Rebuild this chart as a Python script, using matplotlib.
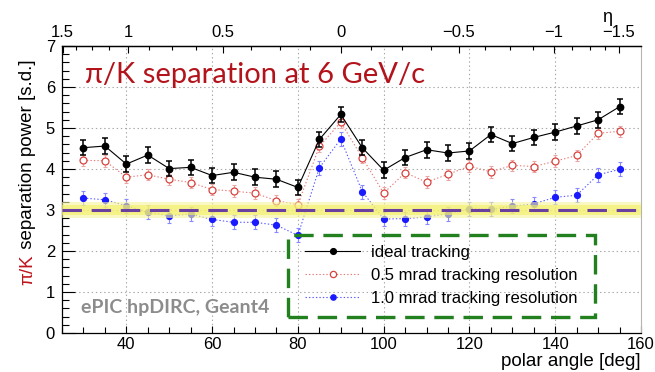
import numpy as np
import matplotlib
matplotlib.use("Agg")
import matplotlib.pyplot as plt
from matplotlib.patches import Rectangle
from matplotlib.ticker import MultipleLocator, FixedLocator

plt.rcParams['font.family'] = ['Liberation Sans', 'DejaVu Sans']
plt.rcParams['lines.scale_dashes'] = False

# ---------------- data ----------------
theta = [30, 35, 40, 45, 50, 55, 60, 65, 70, 75, 80, 85, 90, 95, 100,
         105, 110, 115, 120, 125, 130, 135, 140, 145, 150, 155]
ideal = [4.52, 4.56, 4.12, 4.34, 4.01, 4.04, 3.84, 3.92, 3.80, 3.75, 3.55,
         4.72, 5.33, 4.52, 3.97, 4.28, 4.47, 4.39, 4.44, 4.84, 4.62, 4.77,
         4.90, 5.05, 5.20, 5.52]
ideal_err = [0.18, 0.19, 0.19, 0.19, 0.19, 0.19, 0.19, 0.19, 0.19, 0.19, 0.19,
             0.19, 0.19, 0.19, 0.19, 0.19, 0.19, 0.19, 0.19, 0.19, 0.19, 0.19,
             0.19, 0.19, 0.19, 0.19]
res05 = [4.21, 4.20, 3.80, 3.86, 3.75, 3.67, 3.50, 3.46, 3.41, 3.23, 3.13,
         4.55, 5.14, 4.28, 3.41, 3.91, 3.68, 3.87, 4.07, 3.93, 4.09, 4.06,
         4.19, 4.33, 4.87, 4.92]
res05_err = [0.14, 0.14, 0.14, 0.14, 0.14, 0.14, 0.14, 0.14, 0.14, 0.14, 0.14,
             0.14, 0.14, 0.14, 0.14, 0.14, 0.14, 0.14, 0.14, 0.14, 0.14, 0.14,
             0.14, 0.14, 0.14, 0.14]
res10 = [3.29, 3.25, 3.10, 2.94, 2.86, 2.90, 2.77, 2.70, 2.70, 2.63, 2.38,
         4.03, 4.73, 3.45, 2.78, 2.79, 2.83, 2.91, 3.03, 3.02, 3.09, 3.15,
         3.31, 3.36, 3.86, 3.99]
res10_err = [0.17, 0.17, 0.17, 0.17, 0.17, 0.17, 0.17, 0.17, 0.17, 0.17, 0.17,
             0.17, 0.17, 0.17, 0.17, 0.17, 0.17, 0.17, 0.17, 0.17, 0.17, 0.17,
             0.17, 0.17, 0.17, 0.17]
threshold = 3.0
labels = ["ideal tracking", "0.5 mrad tracking resolution",
          "1.0 mrad tracking resolution"]
eta_major = [1.5, 1.0, 0.5, 0.0, -0.5, -1.0, -1.5]
eta_labels = ["1.5", "1", "0.5", "0", "\u22120.5", "\u22121", "\u22121.5"]
eta_minor = list(np.arange(-1.5, 1.5001, 0.125))


def eta_to_theta(eta):
    return np.degrees(2 * np.arctan(np.exp(-np.asarray(eta, dtype=float))))


# ---------------- figure ----------------
W, H = 655, 372
fig = plt.figure(figsize=(W / 100, H / 100), dpi=100)
ax = fig.add_axes([62 / W, 39 / H, 579 / W, 287 / H])
ax.set_xlim(25, 160)
ax.set_ylim(0, 7)

# grid
for xv in [40, 60, 80, 100, 120, 140]:
    ax.axvline(xv, color='#a8a8a8', lw=0.8, ls=(0, (1, 2)), zorder=0)
for yv in [1, 2, 3, 4, 5, 6]:
    ax.axhline(yv, color='#a8a8a8', lw=0.8, ls=(0, (1, 2)), zorder=0)

# series
ax.errorbar(theta, res05, yerr=res05_err, fmt='none', ecolor='#eaa5a5',
            elinewidth=0.8, capsize=1.5, capthick=0.8, zorder=2)
l05, = ax.plot(theta, res05, ls=(0, (1, 1.5)), color='#e77b7b', lw=0.8,
               marker='o', ms=5.0, mfc='white', mec='#d8433d', mew=0.9,
               zorder=3)
ax.errorbar(theta, res10, yerr=res10_err, fmt='none', ecolor='#8a8aff',
            elinewidth=0.8, capsize=1.5, capthick=0.8, zorder=2)
l10, = ax.plot(theta, res10, ls=(0, (1, 1.5)), color='#5a5aff', lw=0.8,
               marker='o', ms=4.2, mfc='#1a1aff', mec='#1a1aff', zorder=3)
ax.errorbar(theta, ideal, yerr=ideal_err, fmt='none', ecolor='black',
            elinewidth=1.1, capsize=2.2, capthick=1.1, zorder=4)
l0, = ax.plot(theta, ideal, '-', color='black', lw=0.8, marker='o', ms=4.6,
              mfc='black', mec='black', zorder=4)

# 3 s.d. line
ax.axhspan(threshold - 0.2, threshold + 0.2, color='#f7f49a', alpha=0.6,
           lw=0, zorder=5)
ax.axhspan(threshold - 0.13, threshold + 0.13, color='#f2ee60', alpha=0.6,
           lw=0, zorder=5)
ax.axhline(threshold, color='#6b3fa0', lw=2.2, dashes=(14, 7), zorder=6)

# axes styling
for s in ['left', 'bottom', 'top']:
    ax.spines[s].set_color('black')
    ax.spines[s].set_linewidth(0.9)
ax.spines['right'].set_color('#b5b5b5')
ax.spines['right'].set_linewidth(0.8)

ax.xaxis.set_major_locator(FixedLocator([40, 60, 80, 100, 120, 140, 160]))
ax.xaxis.set_minor_locator(MultipleLocator(5))
ax.yaxis.set_major_locator(MultipleLocator(1))
ax.yaxis.set_minor_locator(MultipleLocator(0.2))
ax.tick_params(axis='x', which='major', direction='in', length=5, width=0.8,
               labelsize=12, pad=3, top=False)
ax.tick_params(axis='x', which='minor', direction='in', length=4, width=0.8,
               top=False)
ax.tick_params(axis='y', which='major', direction='in', length=9, width=0.8,
               labelsize=12, pad=5, right=False)
ax.tick_params(axis='y', which='minor', direction='in', length=5, width=0.8,
               right=False)

# top eta axis
ax2 = ax.twiny()
ax2.set_xlim(ax.get_xlim())
ax2.xaxis.set_major_locator(FixedLocator(eta_to_theta(eta_major)))
ax2.set_xticklabels(eta_labels)
ax2.xaxis.set_minor_locator(FixedLocator(eta_to_theta(eta_minor)))
ax2.tick_params(axis='x', which='major', direction='in', length=5, width=0.8,
                labelsize=12, pad=4)
ax2.tick_params(axis='x', which='minor', direction='in', length=3, width=0.8)
for s in ['left', 'bottom', 'right']:
    ax2.spines[s].set_visible(False)
ax2.spines['top'].set_linewidth(0.9)

fig.text(607 / W, 1 - 17 / H, "\u03b7", fontsize=13, ha='center', va='center')

# axis labels
fig.text(641 / W, 1 - 362 / H, "polar angle [deg]", fontsize=13.5,
         ha='right', va='center')
t1 = fig.text(32 / W, 1 - 285 / H, "\u03c0/K", rotation=90, fontsize=13.5,
              color='#c0141c', ha='left', va='baseline', rotation_mode='anchor')
fig.canvas.draw()
bb = t1.get_window_extent()
fig.text(32 / W, bb.y1 / H + 0.002, " separation power [s.d.]", rotation=90,
         fontsize=13.5, color='black', ha='left', va='baseline',
         rotation_mode='anchor')

# title and label texts
fig.text(85 / W, 1 - 83 / H, "\u03c0/K separation at 6 GeV/c",
         fontsize=21, color='#b3141c', family=['Lato', 'DejaVu Sans'],
         ha='left', va='baseline')
fig.text(81 / W, 1 - 313 / H, "ePIC hpDIRC, Geant4", fontsize=14,
         color='#8c8c8c', family=['Lato', 'DejaVu Sans'], weight='bold',
         ha='left', va='baseline')

# legend
leg = ax.legend([l0, l05, l10], labels, loc='upper left',
                bbox_to_anchor=(305 / W, 1 - 245 / H),
                bbox_transform=fig.transFigure, frameon=False,
                fontsize=12, handlelength=3.3, handletextpad=0.65,
                borderpad=0, borderaxespad=0, labelspacing=0.48,
                markerscale=0.9)
leg.set_zorder(10)
box = Rectangle((288 / W, 1 - 317 / H), (595 - 288) / W, (317 - 235) / H,
                transform=fig.transFigure, fill=False, edgecolor='#23801f',
                lw=2.4, ls=(0, (14, 7)), zorder=10)
fig.patches.append(box)

fig.savefig("out.png", dpi=100)
